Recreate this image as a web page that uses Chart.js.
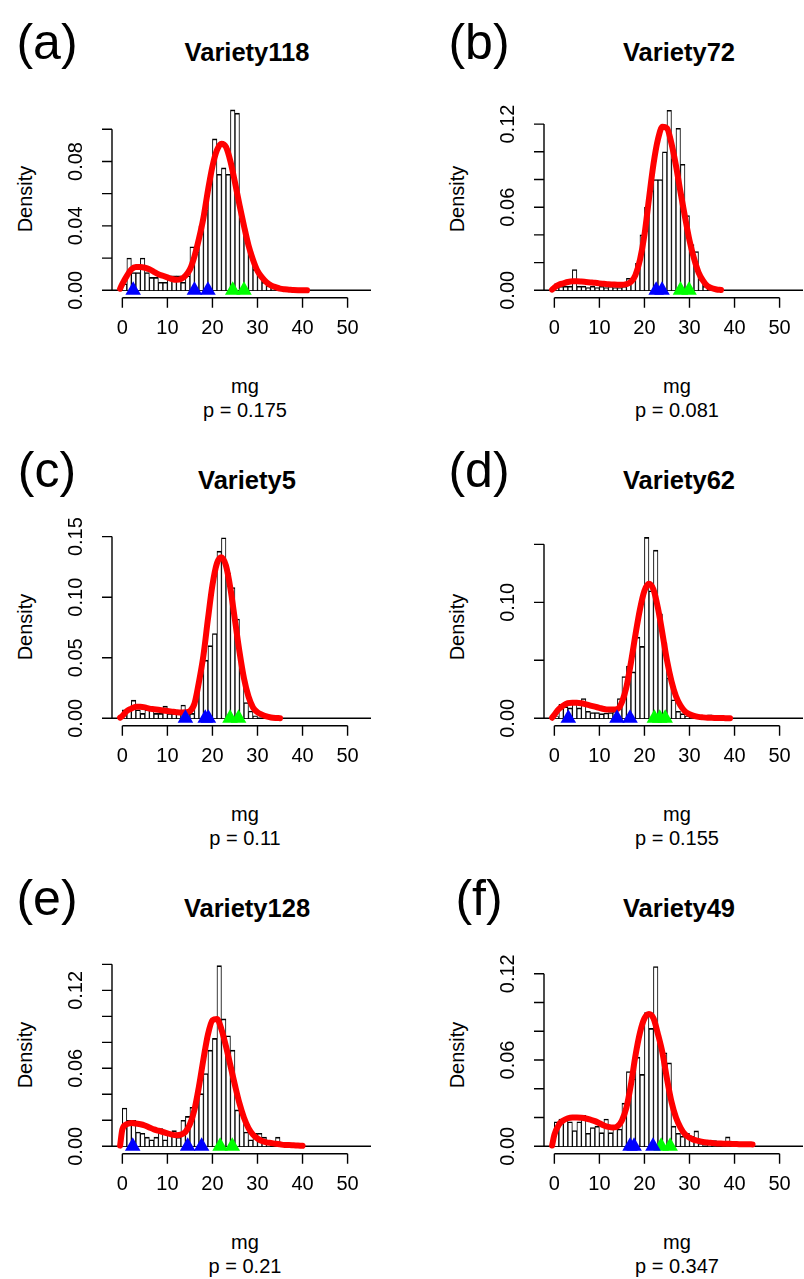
<!DOCTYPE html>
<html>
<head>
<meta charset="utf-8">
<script src="https://cdn.jsdelivr.net/npm/chart.js@4.4.1/dist/chart.umd.min.js"></script>
<style>
  html, body { margin: 0; padding: 0; background: #fff; overflow: hidden; }
  body { width: 804px; height: 1279px; position: relative; font-family: "Liberation Sans", Arial, sans-serif; }
  canvas { position: absolute; }
  .t { position: absolute; transform: translate(-50%, -50%); white-space: nowrap; color: #000; line-height: 1; }
</style>
</head>
<body>
<script>
  "use strict";

  // ---- data ----
  const panelTags = ["(a)", "(b)", "(c)", "(d)", "(e)", "(f)"];
  const varieties = ["Variety118", "Variety72", "Variety5", "Variety62", "Variety128", "Variety49"];
  const pValues = ["0.175", "0.081", "0.11", "0.155", "0.21", "0.347"];

  // y ticks / labelled ticks / upper data limit for each panel
  const yTickSteps = [0.02, 0.02, 0.05, 0.05, 0.02, 0.02];
  const yLabelSteps = [0.04, 0.06, 0.05, 0.10, 0.06, 0.06];
  const yLimits = [0.115, 0.1337, 0.1529, 0.1597, 0.1425, 0.1288];

  // histogram densities, bins of width 1 starting at 0 mg
  const barsA = [0.004, 0.020, 0.011, 0.011, 0.020, 0.011, 0.008, 0.008, 0.005, 0.005, 0.009, 0.009, 0.009, 0.005, 0.009, 0.027, 0.024, 0.040, 0.050, 0.070, 0.094, 0.072, 0.076, 0.072, 0.112, 0.110, 0.045, 0.033, 0.024, 0.013, 0.009, 0.005, 0.003, 0.001];
  const barsB = [0.0046, 0.003, 0.003, 0.003, 0.015, 0.003, 0.003, 0.002, 0.003, 0.002, 0.003, 0.002, 0.003, 0.002, 0.002, 0.003, 0.0087, 0.009, 0.0195, 0.040, 0.060, 0.072, 0.080, 0.080, 0.100, 0.130, 0.095, 0.117, 0.091, 0.054, 0.033, 0.028, 0.008, 0.003, 0.001];
  const barsC = [0.007, 0.007, 0.015, 0.007, 0.004, 0.007, 0.007, 0.004, 0.004, 0.010, 0.004, 0.004, 0.004, 0.011, 0.004, 0.004, 0.020, 0.036, 0.048, 0.060, 0.070, 0.138, 0.149, 0.120, 0.108, 0.082, 0.041, 0.013, 0.006, 0.002];
  const barsD = [0.0015, 0.012, 0.010, 0.009, 0.013, 0.009, 0.017, 0.006, 0.005, 0.005, 0.004, 0.0045, 0.005, 0.006, 0.017, 0.036, 0.045, 0.040, 0.070, 0.062, 0.156, 0.110, 0.145, 0.090, 0.065, 0.035, 0.016, 0.006, 0.004, 0.002, 0.001, 0.001, 0.001, 0, 0.003];
  const barsE = [0.0295, 0.020, 0.020, 0.011, 0.010, 0.007, 0.005, 0.007, 0.0136, 0.005, 0.011, 0.012, 0.007, 0.020, 0.023, 0.030, 0.035, 0.0405, 0.056, 0.074, 0.083, 0.139, 0.098, 0.085, 0.074, 0.028, 0.027, 0.011, 0.005, 0.010, 0.010, 0.007, 0.002, 0, 0.007];
  const barsF = [0.017, 0.019, 0.019, 0.017, 0.011, 0.017, 0.0216, 0.009, 0.013, 0.014, 0.0095, 0.019, 0.0095, 0.014, 0.012, 0.030, 0.052, 0.047, 0.062, 0.050, 0.093, 0.082, 0.125, 0.072, 0.065, 0.058, 0.014, 0.009, 0.007, 0.009, 0.007, 0.0107, 0.002, 0, 0.002, 0.004, 0, 0, 0.0065];

  // density curves, read at these mg values
  const curveX = [-0.5, 0, 1, 2, 3, 4, 5, 6, 7, 8, 9, 10, 11, 12, 13, 14, 15, 16, 17, 18, 19, 20, 21, 22, 23, 24, 25, 26, 27, 28, 29, 30, 31, 32, 33, 34, 35, 36, 37, 38, 39, 40, 41, 42, 43, 44];
  const curveA = [0.001, 0.004, 0.009, 0.013, 0.0145, 0.0145, 0.014, 0.013, 0.0115, 0.010, 0.009, 0.008, 0.007, 0.0065, 0.007, 0.009, 0.013, 0.021, 0.032, 0.045, 0.062, 0.077, 0.087, 0.091, 0.089, 0.080, 0.067, 0.053, 0.040, 0.028, 0.019, 0.012, 0.008, 0.005, 0.003, 0.002, 0.001, 0.0006, 0.0004, 0.0002, 0.0001, 0.0001, 0];
  const curveB = [0.0005, 0.002, 0.004, 0.005, 0.006, 0.0065, 0.0065, 0.0063, 0.006, 0.0057, 0.0054, 0.005, 0.0047, 0.0044, 0.0042, 0.004, 0.004, 0.0045, 0.006, 0.011, 0.022, 0.040, 0.066, 0.091, 0.109, 0.118, 0.117, 0.106, 0.090, 0.071, 0.053, 0.036, 0.023, 0.013, 0.007, 0.003, 0.0015, 0.0006, 0.0002];
  const curveC = [0.0005, 0.002, 0.006, 0.008, 0.0095, 0.0095, 0.009, 0.008, 0.0075, 0.007, 0.0065, 0.006, 0.0055, 0.005, 0.0047, 0.005, 0.006, 0.012, 0.030, 0.052, 0.082, 0.110, 0.128, 0.133, 0.126, 0.107, 0.081, 0.055, 0.033, 0.018, 0.009, 0.005, 0.003, 0.0015, 0.0007, 0.0003, 0.0001];
  const curveD = [0.0005, 0.003, 0.008, 0.011, 0.013, 0.0135, 0.0135, 0.013, 0.012, 0.011, 0.010, 0.009, 0.008, 0.0075, 0.0075, 0.008, 0.014, 0.027, 0.048, 0.072, 0.094, 0.110, 0.116, 0.111, 0.095, 0.073, 0.050, 0.032, 0.019, 0.011, 0.006, 0.0035, 0.002, 0.0012, 0.0008, 0.0005, 0.0004, 0.0003, 0.0002, 0.0001, 0];
  const curveE = [0.0005, 0.013, 0.017, 0.018, 0.0175, 0.017, 0.016, 0.0145, 0.013, 0.012, 0.011, 0.010, 0.009, 0.0085, 0.009, 0.011, 0.017, 0.028, 0.046, 0.067, 0.086, 0.097, 0.098, 0.090, 0.077, 0.062, 0.047, 0.033, 0.022, 0.014, 0.009, 0.006, 0.004, 0.003, 0.0025, 0.002, 0.0015, 0.001, 0.001, 0.0008, 0.0006, 0.0004];
  const curveF = [0.0005, 0.008, 0.015, 0.018, 0.0195, 0.020, 0.020, 0.0198, 0.0193, 0.0185, 0.0175, 0.016, 0.0145, 0.0135, 0.013, 0.0138, 0.018, 0.027, 0.043, 0.063, 0.079, 0.089, 0.092, 0.089, 0.078, 0.065, 0.047, 0.031, 0.020, 0.013, 0.0083, 0.006, 0.0045, 0.0037, 0.003, 0.0026, 0.0023, 0.002, 0.0019, 0.0018, 0.0017, 0.0016, 0.0015, 0.0014, 0.0014, 0.0013];

  // triangle markers on the baseline (mg)
  const blueA = [2.4, 16.0, 19.0], greenA = [24.5, 27.0];
  const blueB = [22.6, 23.9], greenB = [28.0, 29.9];
  const blueC = [14.0, 18.4, 19.1], greenC = [23.9, 25.8];
  const blueD = [3.1, 13.9, 16.8], greenD = [22.2, 23.4, 24.6];
  const blueE = [2.3, 14.5, 17.6], greenE = [21.7, 24.4];
  const blueF = [16.8, 17.7, 21.9], greenF = [23.7, 25.7];

  const allBars = [barsA, barsB, barsC, barsD, barsE, barsF];
  const allCurves = [curveA, curveB, curveC, curveD, curveE, curveF];
  const allBlue = [blueA, blueB, blueC, blueD, blueE, blueF];
  const allGreen = [greenA, greenB, greenC, greenD, greenE, greenF];

  // ---- layout ----
  const COL_W = 432, ROW_H = 428;
  const CANVAS_TOP = 60, CANVAS_W = 380, CANVAS_H = 300;
  const PLOT_W = 266.2, PLOT_H = 200;
  const PAD = { left: 112, top: 37.7, right: CANVAS_W - 112 - PLOT_W, bottom: CANVAS_H - 37.7 - PLOT_H };
  const FONT = '"Liberation Sans", Arial, sans-serif';

  function isMultiple(v, step) {
    const r = v / step;
    return Math.abs(r - Math.round(r)) < 1e-6;
  }

  // R style axes: lines only between first and last tick, ticks outside
  const rStyleAxes = {
    id: "rStyleAxes",
    beforeDatasetsDraw(chart) {
      const { ctx, chartArea } = chart;
      const y0 = chart.scales.y.getPixelForValue(0);
      ctx.save();
      ctx.strokeStyle = "#000";
      ctx.lineWidth = 1.4;
      ctx.beginPath();
      ctx.moveTo(chartArea.left, y0);
      ctx.lineTo(chartArea.right, y0);
      ctx.stroke();
      ctx.restore();
    },
    afterDraw(chart, args, opts) {
      const { ctx, chartArea } = chart;
      const xs = chart.scales.x;
      const ys = chart.scales.y;
      const xt = xs.ticks.map(t => t.value);
      const yt = ys.ticks.map(t => t.value);
      const ay = chartArea.bottom;
      const ax = chartArea.left;
      ctx.save();
      ctx.strokeStyle = "#000";
      ctx.fillStyle = "#000";
      ctx.lineWidth = 1.4;
      ctx.beginPath();
      ctx.moveTo(xs.getPixelForValue(xt[0]), ay);
      ctx.lineTo(xs.getPixelForValue(xt[xt.length - 1]), ay);
      xt.forEach(v => {
        const px = xs.getPixelForValue(v);
        ctx.moveTo(px, ay);
        ctx.lineTo(px, ay + 10);
      });
      ctx.moveTo(ax, ys.getPixelForValue(yt[0]));
      ctx.lineTo(ax, ys.getPixelForValue(yt[yt.length - 1]));
      yt.forEach(v => {
        const py = ys.getPixelForValue(v);
        ctx.moveTo(ax, py);
        ctx.lineTo(ax - 10, py);
      });
      ctx.stroke();

      ctx.font = "20px " + FONT;
      ctx.textAlign = "center";
      ctx.textBaseline = "alphabetic";
      xt.forEach(v => ctx.fillText(String(v), xs.getPixelForValue(v), ay + 36));
      yt.forEach(v => {
        if (!isMultiple(v, opts.labelStep)) return;
        const py = ys.getPixelForValue(v);
        ctx.save();
        ctx.translate(ax - 30, py);
        ctx.rotate(-Math.PI / 2);
        ctx.fillText(v.toFixed(2), 0, 0);
        ctx.restore();
      });
      ctx.restore();
    }
  };

  function addText(txt, x, y, style) {
    const d = document.createElement("div");
    d.className = "t";
    d.textContent = txt;
    d.style.left = x + "px";
    d.style.top = y + "px";
    Object.assign(d.style, style);
    document.body.appendChild(d);
  }

  function makePanel(i) {
    const col = i % 2, row = Math.floor(i / 2);
    const ox = col * COL_W, oy = row * ROW_H;

    addText(panelTags[i], ox + 47, oy + 42, { fontSize: "50px" });
    addText(varieties[i], ox + 247, oy + 53, { fontSize: "25.5px", fontWeight: "bold" });
    addText("Density", ox + 25, oy + 199, { fontSize: "20px", transform: "translate(-50%, -50%) rotate(-90deg)" });
    addText("mg", ox + 245, oy + 386, { fontSize: "20px" });
    addText("p = " + pValues[i], ox + 245, oy + 410, { fontSize: "20px" });

    const canvas = document.createElement("canvas");
    canvas.width = CANVAS_W;
    canvas.height = CANVAS_H;
    canvas.style.left = ox + "px";
    canvas.style.top = (oy + CANVAS_TOP) + "px";
    document.body.appendChild(canvas);

    const lim = yLimits[i];
    const marker = (xsArr, color, order) => ({
      type: "line",
      data: xsArr.map(x => ({ x: x, y: 0 })),
      showLine: false,
      pointStyle: "triangle",
      pointRadius: 9,
      pointBackgroundColor: color,
      pointBorderWidth: 0,
      clip: false,
      order: order
    });

    new Chart(canvas, {
      type: "bar",
      data: {
        datasets: [
          marker(allBlue[i], "#0000ff", 0),
          marker(allGreen[i], "#00ff00", 1),
          {
            type: "line",
            data: allCurves[i].map((y, k) => ({ x: curveX[k], y: y })),
            borderColor: "#ff0000",
            borderWidth: 6,
            borderCapStyle: "round",
            borderJoinStyle: "round",
            pointRadius: 0,
            cubicInterpolationMode: "monotone",
            fill: false,
            order: 2
          },
          {
            type: "bar",
            data: allBars[i].map((y, k) => ({ x: k + 0.5, y: y })),
            backgroundColor: "#ffffff",
            borderColor: "#000000",
            borderWidth: { top: 1.6, left: 1, right: 1, bottom: 0 },
            barPercentage: 1,
            categoryPercentage: 1,
            order: 3
          }
        ]
      },
      options: {
        responsive: false,
        animation: false,
        layout: { padding: PAD },
        plugins: {
          legend: { display: false },
          tooltip: { enabled: false },
          rStyleAxes: { labelStep: yLabelSteps[i] }
        },
        scales: {
          x: {
            type: "linear",
            min: -2.3,
            max: 55.2,
            offset: false,
            ticks: { stepSize: 10, includeBounds: false, display: false },
            grid: { display: false, drawTicks: false },
            border: { display: false },
            afterFit: s => { s.height = 0; }
          },
          y: {
            type: "linear",
            min: -0.04 * lim,
            max: 1.04 * lim,
            ticks: { stepSize: yTickSteps[i], includeBounds: false, display: false },
            grid: { display: false, drawTicks: false },
            border: { display: false },
            afterFit: s => { s.width = 0; }
          }
        }
      },
      plugins: [rStyleAxes]
    });
  }

  for (let i = 0; i < 6; i++) makePanel(i);
</script>
</body>
</html>
